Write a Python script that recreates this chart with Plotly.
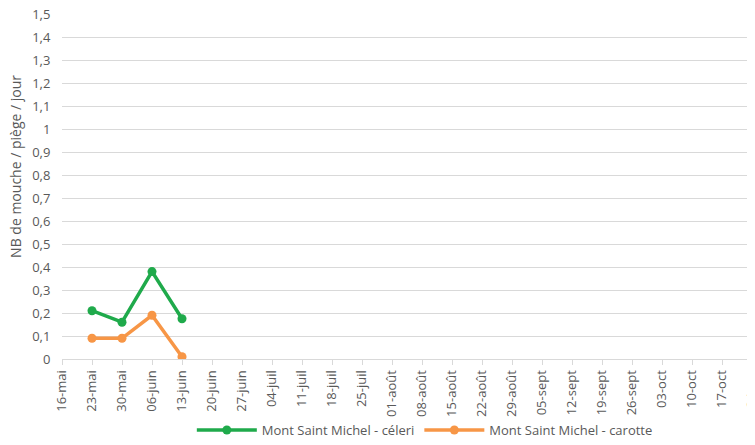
import plotly.graph_objects as go

dates = ["16-mai", "23-mai", "30-mai", "06-juin", "13-juin", "20-juin", "27-juin", "04-juil",
         "11-juil", "18-juil", "25-juil", "01-août", "08-août", "15-août", "22-août", "29-août",
         "05-sept", "12-sept", "19-sept", "26-sept", "03-oct", "10-oct", "17-oct", "24-oct"]
obs_dates = ["23-mai", "30-mai", "06-juin", "13-juin"]
celeri = [0.21, 0.16, 0.38, 0.175]
carotte = [0.09, 0.09, 0.19, 0.01]
yticks = [i / 10 for i in range(16)]
yticklabels = [("%g" % v).replace(".", ",") for v in yticks]
ytitle = "NB de mouche / piège / jour"

xpos = [dates.index(d) for d in obs_dates]

fig = go.Figure()
fig.add_trace(go.Scatter(x=xpos, y=celeri, mode="lines+markers", name="Mont Saint Michel - céleri",
                         line=dict(color="#1FAA4B", width=3.5), marker=dict(size=9, color="#1FAA4B")))
fig.add_trace(go.Scatter(x=xpos, y=carotte, mode="lines+markers", name="Mont Saint Michel - carotte",
                         line=dict(color="#F79646", width=3.5), marker=dict(size=9, color="#F79646")))

font = "Open Sans, Liberation Sans, sans-serif"
fig.update_layout(
    width=747, height=437,
    margin=dict(l=54, r=0, t=6, b=86),
    paper_bgcolor="white", plot_bgcolor="white",
    font=dict(family=font, color="#595959", size=13),
    showlegend=True,
    legend=dict(orientation="h", x=0.558, xref="container", xanchor="center", y=0.0, yref="container",
                yanchor="bottom", bgcolor="rgba(0,0,0,0)", font=dict(size=13, color="#595959"),
                itemwidth=60, tracegroupgap=0),
    xaxis=dict(range=[0, 23.1], tickmode="array", tickvals=list(range(len(dates))), ticktext=dates,
               tickangle=-90, showgrid=False, zeroline=False, showline=True, linecolor="#d9d9d9",
               ticks="outside", ticklen=5, tickcolor="#d9d9d9", tickfont=dict(size=13, color="#595959"),
               ticklabeloverflow="allow", automargin=False),
    yaxis=dict(range=[0, 1.5], tickmode="array", tickvals=yticks, ticktext=yticklabels,
               showgrid=True, gridcolor="#d9d9d9", gridwidth=1, zeroline=False, showline=False,
               tickfont=dict(size=13, color="#595959"), ticklen=8, ticks="outside", tickcolor="white",
               ticklabeloverflow="allow", automargin=False),
    annotations=[dict(text=ytitle, xref="paper", yref="paper", x=-0.068, y=(158 - 6) / -345 + 1,
                      xanchor="center", yanchor="middle", textangle=-90, showarrow=False,
                      font=dict(size=14, color="#595959"))],
)
fig.write_html("out.html")
